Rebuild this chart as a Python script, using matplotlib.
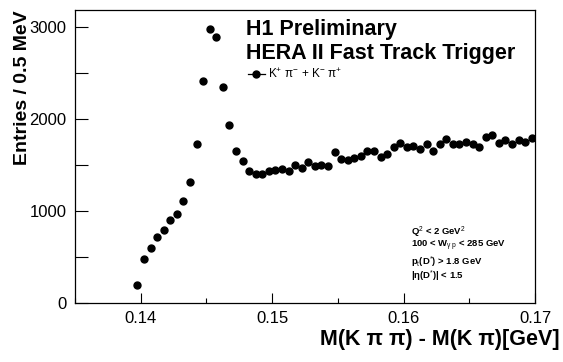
import numpy as np
import matplotlib
matplotlib.use("Agg")
import matplotlib.pyplot as plt
from matplotlib.ticker import MultipleLocator
from matplotlib.lines import Line2D

plt.rcParams['font.family'] = ['Liberation Sans', 'DejaVu Sans']
plt.rcParams['mathtext.fontset'] = 'custom'
plt.rcParams['mathtext.rm'] = 'Liberation Sans'
plt.rcParams['mathtext.it'] = 'Liberation Sans'
plt.rcParams['mathtext.bf'] = 'Liberation Sans:bold'

# bin centres of the 0.5 MeV histogram (GeV)
bin_start = 0.13975
bin_width = 0.0005
entries = [199, 475, 594, 721, 793, 906, 964, 1112, 1315, 1732,
           2409, 2978, 2895, 2351, 1938, 1656, 1543, 1438, 1402, 1405,
           1438, 1449, 1460, 1431, 1503, 1471, 1536, 1492, 1500, 1492,
           1645, 1562, 1558, 1580, 1601, 1652, 1652, 1590, 1620, 1692,
           1736, 1692, 1710, 1677, 1728, 1655, 1732, 1779, 1725, 1725,
           1753, 1732, 1692, 1801, 1823, 1742, 1772, 1725, 1768, 1753,
           1797]
dm = bin_start + bin_width * np.arange(len(entries))

cuts = ["Q$^{2}$ < 2 GeV$^{2}$",
        "100 < W$_{γ\\ p}$ < 285 GeV",
        "p$_{t}$(D$^{*}$) > 1.8 GeV",
        "|η(D$^{*}$)| < 1.5"]

W, H = 563, 362
fig = plt.figure(figsize=(W / 100, H / 100), dpi=100)
ax = fig.add_axes([75 / W, 1 - 303 / H, 460 / W, 293 / H])

ax.plot(dm, entries, 'o', color='black', markersize=5)

ax.set_xlim(0.135, 0.17)
ax.set_ylim(0, 3185)
ax.xaxis.set_major_locator(MultipleLocator(0.01))
ax.xaxis.set_minor_locator(MultipleLocator(0.005))
ax.yaxis.set_major_locator(MultipleLocator(1000))
ax.yaxis.set_minor_locator(MultipleLocator(500))
ax.xaxis.set_major_formatter(plt.FuncFormatter(lambda v, p: f"{v:.2f}"))
ax.tick_params(axis='x', which='major', direction='in', length=7.5, width=0.8,
               labelsize=12, pad=6, top=False)
ax.tick_params(axis='x', which='minor', direction='in', length=3.8, width=0.8, top=False)
ax.tick_params(axis='y', which='both', direction='in', length=9.5, width=0.8,
               labelsize=12, pad=6, right=False)
for s in ax.spines.values():
    s.set_linewidth(0.9)

fig.text(23 / W, 1 - 10 / H, "Entries / 0.5 MeV", rotation=90, ha='center', va='top',
         fontsize=14, fontweight='bold')
fig.text(560 / W, 1 - 340 / H, "M(K π π) - M(K π)[GeV]", ha='right', va='center',
         fontsize=15.5, fontweight='bold')

fig.text(246 / W, 1 - 30 / H, "H1 Preliminary", ha='left', va='center',
         fontsize=15.5, fontweight='bold')
fig.text(246 / W, 1 - 53 / H, "HERA II Fast Track Trigger", ha='left', va='center',
         fontsize=15.5, fontweight='bold')

handle = Line2D([], [], color='black', marker='o', markersize=5, linewidth=0.9)
fig.legend([handle], ["K$^{+}$ π$^{-}$ + K$^{-}$ π$^{+}$"], loc='center left',
           bbox_to_anchor=(248 / W, 1 - 74 / H), frameon=False, fontsize=8.5,
           handlelength=1.4, handletextpad=0.3, borderpad=0, borderaxespad=0)

for txt, ypix in zip(cuts, [232, 246, 262, 276]):
    fig.text(411 / W, 1 - ypix / H, txt, ha='left', va='center', fontsize=6.8, fontweight='bold')

fig.savefig("out.png", dpi=100)
